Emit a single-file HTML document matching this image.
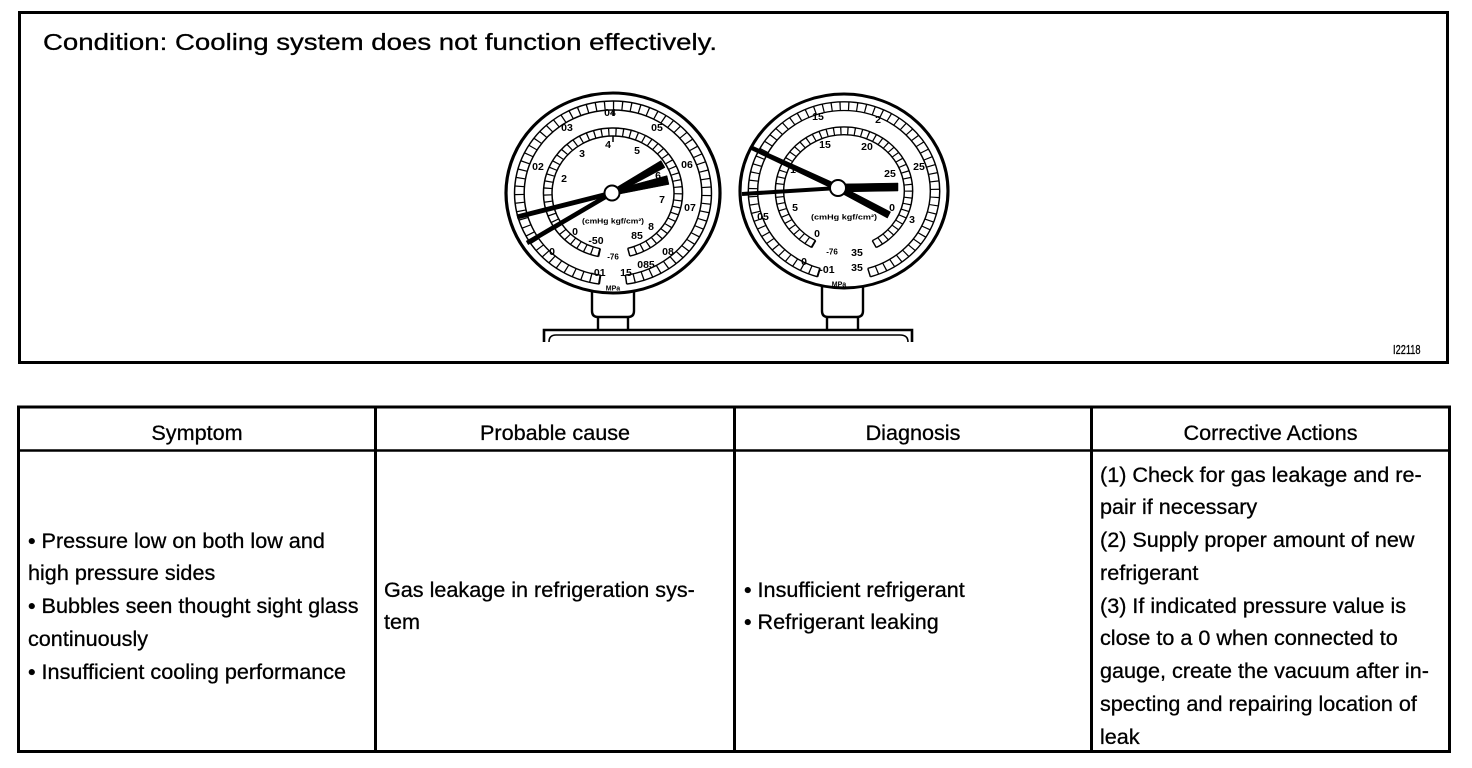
<!DOCTYPE html>
<html><head><meta charset="utf-8"><style>
html,body{margin:0;padding:0;background:#fff}
body{width:1472px;height:768px;position:relative;overflow:hidden;font-family:"Liberation Sans",Arial,sans-serif;color:#000}
.t{position:absolute;white-space:nowrap;font-size:21.6px;line-height:32.75px;-webkit-text-stroke:0.3px #000}
.h{text-align:center}
svg text{font-family:"Liberation Sans",Arial,sans-serif;font-weight:bold;font-size:10.5px;text-anchor:middle;dominant-baseline:central}
</style></head><body>
<svg width="1472" height="768" viewBox="0 0 1472 768" style="position:absolute;left:0;top:0">
 <g fill="none" stroke="#000">
  <rect x="19.5" y="12.5" width="1428" height="350" stroke-width="3"/>
  <rect x="18.5" y="407" width="1431" height="344.5" stroke-width="3"/>
  <line x1="18.5" y1="450.5" x2="1449.5" y2="450.5" stroke-width="2.6"/>
  <line x1="375.5" y1="407" x2="375.5" y2="751.5" stroke-width="3"/>
  <line x1="734.5" y1="407" x2="734.5" y2="751.5" stroke-width="3"/>
  <line x1="1091.5" y1="407" x2="1091.5" y2="751.5" stroke-width="3"/>
 </g>

 <!-- stand / base -->
 <g fill="#fff" stroke="#000" stroke-width="2.4">
  <path d="M592,288 L592,311 Q592,317 598,317 L628,317 Q634,317 634,311 L634,288"/>
  <path d="M822,284 L822,311 Q822,317 828,317 L857,317 Q863,317 863,311 L863,284"/>
  <path d="M598,317 L598,329 M628,317 L628,329" fill="none"/>
  <path d="M827,317 L827,329 M858,317 L858,329" fill="none"/>
  <path d="M544,342 L544,330 L912,330 L912,342" fill="none" stroke-width="2.6"/>
  <path d="M549,342 Q549,335 556,335 L900,335 Q908,335 908,342" fill="none" stroke-width="1.6"/>
 </g>

 <!-- LEFT GAUGE -->
 <g transform="translate(613,193) scale(1.07,1.0)" fill="none" stroke="#000">
  <circle r="100" fill="#fff" stroke-width="3"/>
  <path d="M -12.81 91.11 A 92 92 0 1 1 12.81 91.11" stroke-width="1.4"/>
  <path d="M -11.55 82.19 A 83 83 0 1 1 11.55 82.19" stroke-width="1.4"/>
  <path d="M -12.18 86.65 A 87.5 87.5 0 1 1 12.18 86.65" stroke-width="9" stroke-dasharray="1.2 7"/>
  <path d="M -11.55 82.19 L -12.81 91.11 M 11.55 82.19 L 12.81 91.11" stroke-width="1.4"/>
  <path d="M -13.51 63.58 A 65 65 0 1 1 15.73 63.07" stroke-width="1.4"/>
  <path d="M -11.85 55.75 A 57 57 0 1 1 13.79 55.31" stroke-width="1.4"/>
  <path d="M -12.68 59.66 A 61 61 0 1 1 14.76 59.19" stroke-width="8" stroke-dasharray="1.2 5.5"/>
  <path d="M -11.85 55.75 L -13.51 63.58 M 13.79 55.31 L 15.73 63.07" stroke-width="1.4"/>
  <path d="M0,-83 L0,-77 M0,-57 L0,-51" stroke-width="1.4"/>
 </g>
 <g>
  <text x="610" y="113">04</text><text x="567" y="128">03</text><text x="657" y="128">05</text>
  <text x="538" y="167">02</text><text x="687" y="165">06</text><text x="690" y="208">07</text>
  <text x="552" y="252">0</text><text x="598" y="273">-01</text><text x="626" y="273">15</text>
  <text x="646" y="265">085</text><text x="668" y="252">08</text>
  <text x="613" y="289" style="font-size:7px">MPa</text>
  <text x="608" y="145">4</text><text x="582" y="154">3</text><text x="637" y="151">5</text>
  <text x="564" y="179">2</text><text x="658" y="176">6</text><text x="662" y="200">7</text>
  <text x="651" y="227">8</text><text x="575" y="232">0</text><text x="596" y="241">-50</text>
  <text x="637" y="236">85</text><text x="613" y="257" style="font-size:8px">-76</text>
  <text x="613" y="221" style="font-size:7.5px" textLength="62" lengthAdjust="spacingAndGlyphs">(cmHg kgf/cm²)</text>
 </g>
 <g fill="#000" stroke="#000">
  <line x1="517" y1="217" x2="612" y2="193" stroke-width="5"/>
  <polygon points="612.6,195.4 669,184.4 667,175.6 611.4,190.6" stroke-width="0.5"/>
  <line x1="527" y1="243" x2="612" y2="193" stroke-width="4.5"/>
  <polygon points="613.2,195.2 665,167.5 661,160.5 610.8,190.8" stroke-width="0.5"/>
  <circle cx="612" cy="193" r="7.5" fill="#fff" stroke-width="2"/>
 </g>

 <!-- RIGHT GAUGE -->
 <g transform="translate(844,191) scale(1.04,0.97)" fill="none" stroke="#000">
  <circle r="100" fill="#fff" stroke-width="3"/>
  <path d="M -25.36 88.44 A 92 92 0 1 1 25.36 88.44" stroke-width="1.4"/>
  <path d="M -22.87 79.79 A 83 83 0 1 1 22.87 79.79" stroke-width="1.4"/>
  <path d="M -24.12 84.11 A 87.5 87.5 0 1 1 24.12 84.11" stroke-width="9" stroke-dasharray="1.2 7"/>
  <path d="M -22.87 79.79 L -25.36 88.44 M 22.87 79.79 L 25.36 88.44" stroke-width="1.4"/>
  <path d="M -30.99 58.27 A 66 66 0 1 1 30.99 58.27" stroke-width="1.4"/>
  <path d="M -27.23 51.21 A 58 58 0 1 1 27.23 51.21" stroke-width="1.4"/>
  <path d="M -29.11 54.74 A 62 62 0 1 1 29.11 54.74" stroke-width="8" stroke-dasharray="1.2 5.5"/>
  <path d="M -27.23 51.21 L -30.99 58.27 M 27.23 51.21 L 30.99 58.27" stroke-width="1.4"/>
 </g>
 <g>
  <text x="818" y="117">15</text><text x="878" y="120">2</text><text x="919" y="167">25</text>
  <text x="763" y="217">05</text><text x="912" y="220">3</text><text x="804" y="262">0</text>
  <text x="827" y="270">-01</text><text x="857" y="268">35</text>
  <text x="839" y="285" style="font-size:7px">MPa</text>
  <text x="825" y="145">15</text><text x="867" y="147">20</text><text x="890" y="174">25</text>
  <text x="793" y="170">1</text><text x="795" y="208">5</text><text x="817" y="234">0</text>
  <text x="832" y="252" style="font-size:8px">-76</text><text x="857" y="253">35</text>
  <text x="892" y="208">0</text>
  <text x="844" y="217" style="font-size:7.5px" textLength="66" lengthAdjust="spacingAndGlyphs">(cmHg kgf/cm²)</text>
 </g>
 <g fill="#000" stroke="#000">
  <polygon points="751.2,149.8 752.8,146.2 839.4,185.3 890.6,211.9 887.4,218.1 836.6,190.7" stroke-width="0.5"/>
  <line x1="742" y1="194" x2="838" y2="188" stroke-width="4"/>
  <polygon points="838,184 898,183 898,191 838,192" stroke-width="0.5"/>
  <circle cx="838" cy="188" r="8" fill="#fff" stroke-width="2"/>
 </g>
</svg>

<div class="t" style="left:43px;top:30.5px;font-size:23px;line-height:23px;transform:scaleX(1.2);transform-origin:0 0">Condition: Cooling system does not function effectively.</div>
<div class="t" style="left:1393px;top:343px;font-size:13px;line-height:13px;transform:scaleX(0.71);transform-origin:0 0">I22118</div>

<div class="t h" style="left:20px;width:354px;top:416.6px">Symptom</div>
<div class="t h" style="left:377px;width:356px;top:416.6px">Probable cause</div>
<div class="t h" style="left:736px;width:354px;top:416.6px">Diagnosis</div>
<div class="t h" style="left:1093px;width:355px;top:416.6px">Corrective Actions</div>

<div class="t" style="left:28px;top:524.6px">• Pressure low on both low and<br>high pressure sides<br>• Bubbles seen thought sight glass<br>continuously<br>• Insufficient cooling performance</div>
<div class="t" style="left:384px;top:573.6px">Gas leakage in refrigeration sys-<br>tem</div>
<div class="t" style="left:744px;top:573.6px">• Insufficient refrigerant<br>• Refrigerant leaking</div>
<div class="t" style="left:1100px;top:458.6px">(1) Check for gas leakage and re-<br>pair if necessary<br>(2) Supply proper amount of new<br>refrigerant<br>(3) If indicated pressure value is<br>close to a 0 when connected to<br>gauge, create the vacuum after in-<br>specting and repairing location of<br>leak</div>
</body></html>
